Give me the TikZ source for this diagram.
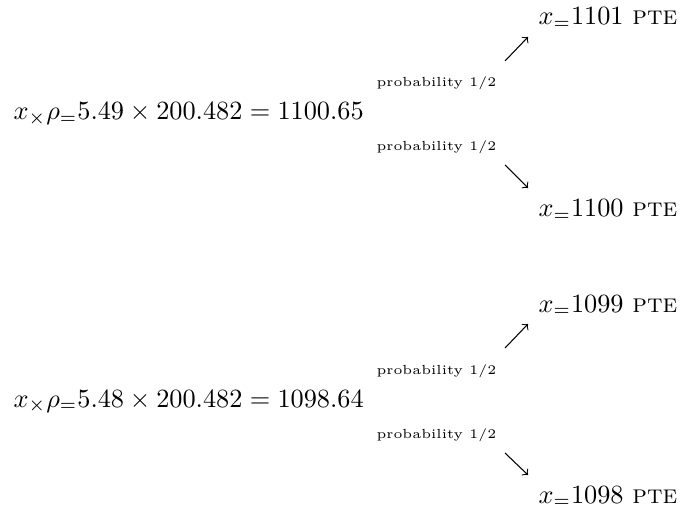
\documentclass[tikz,border=0pt]{standalone}
\usetikzlibrary{arrows}
\begin{document}
\begin{tikzpicture}[x=0.3802pt,y=-0.3802pt,
  txt/.style={inner sep=0pt,anchor=base west},
  prob/.style={inner sep=0pt,anchor=base west,font=\tiny},
  arr/.style={->,>=to,line width=0.4pt}]
\useasboundingbox (0,0) rectangle (680,508);
% group 1
\node[txt] (m1) at (13,120) {$x_{\times}\rho_{=}5.49\times 200.482=1100.65$};
\node[prob] (p1a) at (376,87) {probability 1/2};
\node[prob] (p1b) at (376,151) {probability 1/2};
\node[txt] (t1) at (538,25) {$x_{=}1101$ \textsc{pte}};
\node[txt] (b1) at (538,217) {$x_{=}1100$ \textsc{pte}};
\coordinate (a1s) at (505,61); \coordinate (a1e) at (528,37);
\coordinate (c1s) at (505,165); \coordinate (c1e) at (528,188);
\draw[arr] (a1s) -- (a1e);
\draw[arr] (c1s) -- (c1e);
% group 2
\node[txt] (m2) at (13,407) {$x_{\times}\rho_{=}5.48\times 200.482=1098.64$};
\node[prob] (p2a) at (376,374) {probability 1/2};
\node[prob] (p2b) at (376,438) {probability 1/2};
\node[txt] (t2) at (538,312) {$x_{=}1099$ \textsc{pte}};
\node[txt] (b2) at (538,503) {$x_{=}1098$ \textsc{pte}};
\coordinate (a2s) at (505,348); \coordinate (a2e) at (528,324);
\coordinate (c2s) at (505,453); \coordinate (c2e) at (528,475);
\draw[arr] (a2s) -- (a2e);
\draw[arr] (c2s) -- (c2e);
\end{tikzpicture}
\end{document}
